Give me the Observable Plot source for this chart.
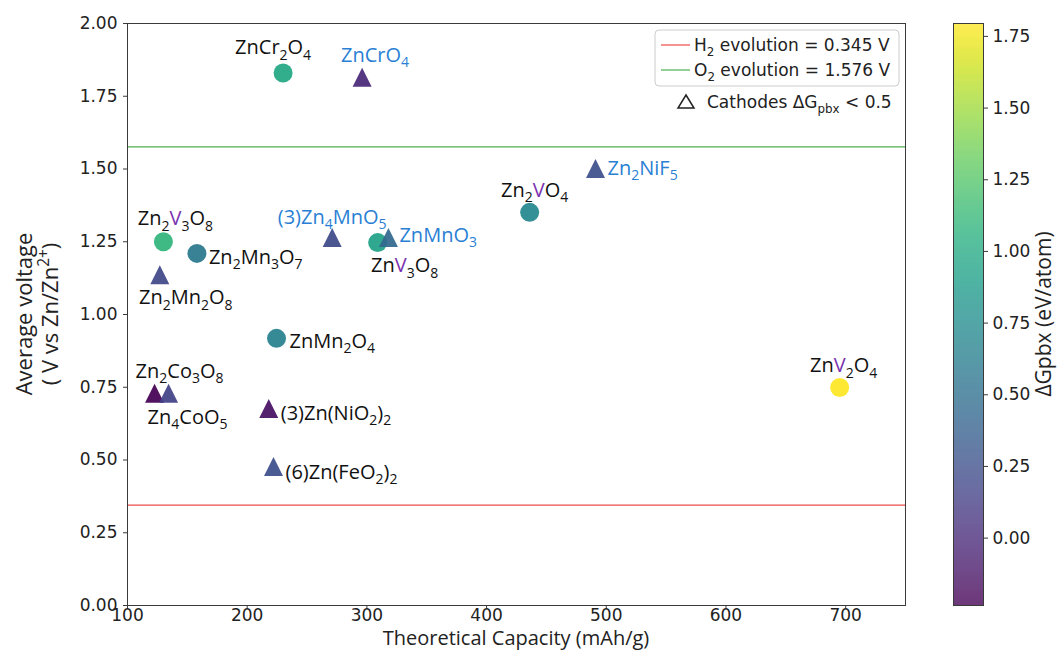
<!DOCTYPE html>
<html>
<head>
<meta charset="utf-8">
<script src="https://cdn.jsdelivr.net/npm/d3@7"></script>
<script src="https://cdn.jsdelivr.net/npm/@observablehq/plot@0.6"></script>
<style>
  body { margin: 0; background: #fff; }
  #chart { position: relative; width: 1062px; height: 659px; overflow: hidden; }
  #chart > svg { position: absolute; top: 0; }
</style>
</head>
<body>
<div id="chart"></div>
<script>
// Candidate Zn-ion cathode materials.
// Markup in formulas: _n = subscript, [X] = highlighted element.
const formulas = [
  "ZnCr_2O_4", "ZnCrO_4", "Zn_2[V]_3O_8", "Zn_2Mn_3O_7", "Zn_2Mn_2O_8",
  "(3)Zn_4MnO_5", "Zn[V]_3O_8", "ZnMnO_3", "ZnMn_2O_4", "Zn_2Co_3O_8",
  "Zn_4CoO_5", "(3)Zn(NiO_2)_2", "(6)Zn(FeO_2)_2", "Zn_2[V]O_4", "Zn_2NiF_5", "Zn[V]_2O_4"
];
const capacity = [230, 296, 130, 158, 127, 271, 309, 318, 224.5, 122.6, 134.3, 218, 222, 436, 491, 695]; // mAh/g
const voltage  = [1.83, 1.815, 1.25, 1.21, 1.137, 1.265, 1.247, 1.265, 0.918, 0.729, 0.729, 0.677, 0.478, 1.351, 1.502, 0.749]; // V vs Zn/Zn2+
const dGpbx    = [0.98, -0.01, 1.09, 0.58, 0.20, 0.22, 0.93, 0.44, 0.65, -0.235, 0.16, -0.15, 0.26, 0.71, 0.26, 1.795]; // eV/atom

// Water stability window
const evolutionNames = ["H_2", "O_2"];
const evolutionVoltages = [0.345, 1.576];
const cathodeThreshold = 0.5;

// Tick labels
const xTicks = [100, 200, 300, 400, 500, 600, 700];
const yTicks = [0, 0.25, 0.5, 0.75, 1.0, 1.25, 1.5, 1.75, 2.0];
const cbTicks = [0, 0.25, 0.5, 0.75, 1.0, 1.25, 1.5, 1.75];

// ---- presentation ----
const evolutionColors = ["#ee4b4b", "#4caf50"];
const accentBlue = "#2a7fd4";
const accentPurple = "#7a32b0";
const labelLayout = {
  "ZnCr_2O_4":       {dx: -10, dy: -25, anchor: "middle"},
  "ZnCrO_4":         {dx: 13,  dy: -22, anchor: "middle", blue: true},
  "Zn_2[V]_3O_8":    {dx: 12,  dy: -23, anchor: "middle"},
  "Zn_2Mn_3O_7":     {dx: 12,  dy: 4,   anchor: "start"},
  "Zn_2Mn_2O_8":     {dx: 26,  dy: 23,  anchor: "middle"},
  "(3)Zn_4MnO_5":    {dx: 0,   dy: -20, anchor: "middle", blue: true},
  "Zn[V]_3O_8":      {dx: 27,  dy: 23,  anchor: "middle"},
  "ZnMnO_3":         {dx: 11,  dy: -2,  anchor: "start", blue: true},
  "ZnMn_2O_4":       {dx: 13,  dy: 3,   anchor: "start"},
  "Zn_2Co_3O_8":     {dx: 25,  dy: -22, anchor: "middle"},
  "Zn_4CoO_5":       {dx: 19,  dy: 24,  anchor: "middle"},
  "(3)Zn(NiO_2)_2":  {dx: 12,  dy: 5,   anchor: "start"},
  "(6)Zn(FeO_2)_2":  {dx: 12,  dy: 6,   anchor: "start"},
  "Zn_2[V]O_4":      {dx: 5,   dy: -22, anchor: "middle"},
  "Zn_2NiF_5":       {dx: 12,  dy: 0,   anchor: "start", blue: true},
  "Zn[V]_2O_4":      {dx: 4,   dy: -22, anchor: "middle"}
};

const rows = formulas.map((f, i) => ({formula: f, capacity: capacity[i], voltage: voltage[i], dG: dGpbx[i]}));
const [dMin, dMax] = d3.extent(dGpbx);
const colorScale = {type: "linear", scheme: "viridis", domain: [dMin, dMax]};

// matplotlib-style upward triangle (bounding box centred on the point)
const triangleUp = {
  draw(ctx, size) {
    const r = Math.sqrt(size / Math.PI);
    ctx.moveTo(0, -r);
    ctx.lineTo(r, r);
    ctx.lineTo(-r, r);
    ctx.closePath();
  }
};

// Replace a text element's content with tspans for sub/superscripts and accents
function setRich(textEl, markup, size, accent) {
  const sel = d3.select(textEl);
  sel.text(null);
  const re = /_\{([^}]*)\}|_(\d+)|\^\{([^}]*)\}|\[([^\]]*)\]|([^_^\[]+)/g;
  let shift = 0, m;
  while ((m = re.exec(markup))) {
    let str, target = 0, small = false, color = null;
    if (m[1] !== undefined || m[2] !== undefined) { str = m[1] ?? m[2]; target = 0.28 * size; small = true; }
    else if (m[3] !== undefined) { str = m[3]; target = -0.42 * size; small = true; }
    else if (m[4] !== undefined) { str = m[4]; color = accent; }
    else str = m[5];
    const t = sel.append("tspan").text(str);
    if (target !== shift) t.attr("dy", target - shift);
    shift = target;
    if (small) t.attr("font-size", size * 0.7);
    if (color) t.attr("fill", color);
  }
}

const labelSize = 20;
const labelMarks = rows.map(d => {
  const L = labelLayout[d.formula];
  return Plot.text([d], {
    x: "capacity", y: "voltage", text: "formula",
    dx: L.dx, dy: L.dy, textAnchor: L.anchor,
    fill: L.blue ? accentBlue : "#111",
    fontFamily: "Open Sans", fontSize: labelSize
  });
});

const main = Plot.plot({
  width: 1062, height: 659,
  marginLeft: 127, marginRight: 157, marginTop: 23, marginBottom: 54,
  style: {fontFamily: "DejaVu Sans", fontSize: "17px", color: "#222", background: "white"},
  x: {domain: [100, 750]},
  y: {domain: [0, 2]},
  color: colorScale,
  marks: [
    Plot.ruleY(evolutionVoltages, {y: d => d, stroke: (d, i) => evolutionColors[i], strokeWidth: 1.1}),
    Plot.dot(rows.filter(d => d.dG >= cathodeThreshold), {
      x: "capacity", y: "voltage", fill: "dG", r: 9.5, symbol: "circle", fillOpacity: 0.93, stroke: "none"
    }),
    Plot.dot(rows.filter(d => d.dG < cathodeThreshold), {
      x: "capacity", y: "voltage", fill: "dG", r: 9.5, symbol: triangleUp, fillOpacity: 0.93, stroke: "none"
    }),
    ...labelMarks,
    Plot.frame({stroke: "#3a3a3a", strokeWidth: 1}),
    Plot.axisX({ticks: xTicks, tickFormat: d => String(d), tickSize: 3.5, tickPadding: 0, label: null, stroke: "#3a3a3a"}),
    Plot.axisY({ticks: yTicks, tickFormat: d => d.toFixed(2), tickSize: 4, tickPadding: 6, label: null, stroke: "#3a3a3a"})
  ]
});

// Formula labels with chemical subscripts (only the formula texts carry markup)
d3.select(main).selectAll("text").each(function () {
  const s = this.textContent;
  if (/[_\[]/.test(s)) setRich(this, s, labelSize, accentPurple);
});

const svg = d3.select(main);

// Axis titles
svg.append("text")
  .attr("x", 516).attr("y", 645)
  .attr("text-anchor", "middle")
  .attr("font-family", "Open Sans").attr("font-size", 20).attr("fill", "#222")
  .text("Theoretical Capacity (mAh/g)");
svg.append("text")
  .attr("transform", "translate(32,314) rotate(-90)")
  .attr("text-anchor", "middle")
  .attr("font-family", "Open Sans").attr("font-size", 22).attr("fill", "#222")
  .text("Average voltage");
const yl2 = svg.append("text")
  .attr("transform", "translate(58,314) rotate(-90)")
  .attr("text-anchor", "middle")
  .attr("font-family", "Open Sans").attr("font-size", 22).attr("fill", "#222");
setRich(yl2.node(), "( V vs Zn/Zn^{2+})", 22, null);

// Legend in the upper-right corner of the axes
const lg = svg.append("g")
  .attr("font-family", "DejaVu Sans").attr("font-size", 17).attr("fill", "#222")
  .attr("text-anchor", "start");
lg.append("rect")
  .attr("x", 655).attr("y", 30).attr("width", 244).attr("height", 56).attr("rx", 4)
  .attr("fill", "white").attr("stroke", "#cccccc");
evolutionNames.forEach((name, i) => {
  const cy = 45 + i * 25;
  lg.append("line").attr("x1", 661).attr("x2", 690).attr("y1", cy).attr("y2", cy)
    .attr("stroke", evolutionColors[i]).attr("stroke-width", 1.2);
  const t = lg.append("text").attr("x", 694).attr("y", cy + 6);
  setRich(t.node(), `${name} evolution = ${evolutionVoltages[i].toFixed(3)} V`, 17, null);
});
lg.append("path")
  .attr("d", "M686,95 L694,108 L678,108 Z")
  .attr("fill", "none").attr("stroke", "#222").attr("stroke-width", 1.5);
const ct = lg.append("text").attr("x", 707).attr("y", 108);
setRich(ct.node(), `Cathodes ΔG_{pbx} < ${cathodeThreshold}`, 17, null);

// Colour bar for ΔGpbx
const cbN = 194;
const cbBands = d3.range(cbN).map(i => ({
  lo: dMin + (dMax - dMin) * i / cbN,
  hi: dMin + (dMax - dMin) * (i + 1) / cbN
}));
const cbar = Plot.plot({
  width: 122, height: 659,
  marginLeft: 13, marginRight: 79, marginTop: 23, marginBottom: 54,
  style: {fontFamily: "DejaVu Sans", fontSize: "17px", color: "#222", background: "transparent"},
  x: {domain: [0, 1], axis: null},
  y: {domain: [dMin, dMax], axis: null},
  color: colorScale,
  marks: [
    Plot.rect(cbBands, {x1: 0, x2: 1, y1: "lo", y2: "hi", fill: d => (d.lo + d.hi) / 2, fillOpacity: 0.78, shapeRendering: "crispEdges"}),
    Plot.frame({stroke: "#3a3a3a", strokeWidth: 1}),
    Plot.axisY({anchor: "right", ticks: cbTicks, tickFormat: d => d.toFixed(2), tickSize: 4, tickPadding: 5, label: null, stroke: "#3a3a3a"})
  ]
});
d3.select(cbar).append("text")
  .attr("transform", "translate(111,314) rotate(-90)")
  .attr("text-anchor", "middle")
  .attr("font-family", "Open Sans").attr("font-size", 21).attr("fill", "#222")
  .text("ΔGpbx (eV/atom)");

main.style.left = "0px";
cbar.style.left = "940px";
const chart = document.getElementById("chart");
chart.appendChild(main);
chart.appendChild(cbar);
</script>
</body>
</html>
